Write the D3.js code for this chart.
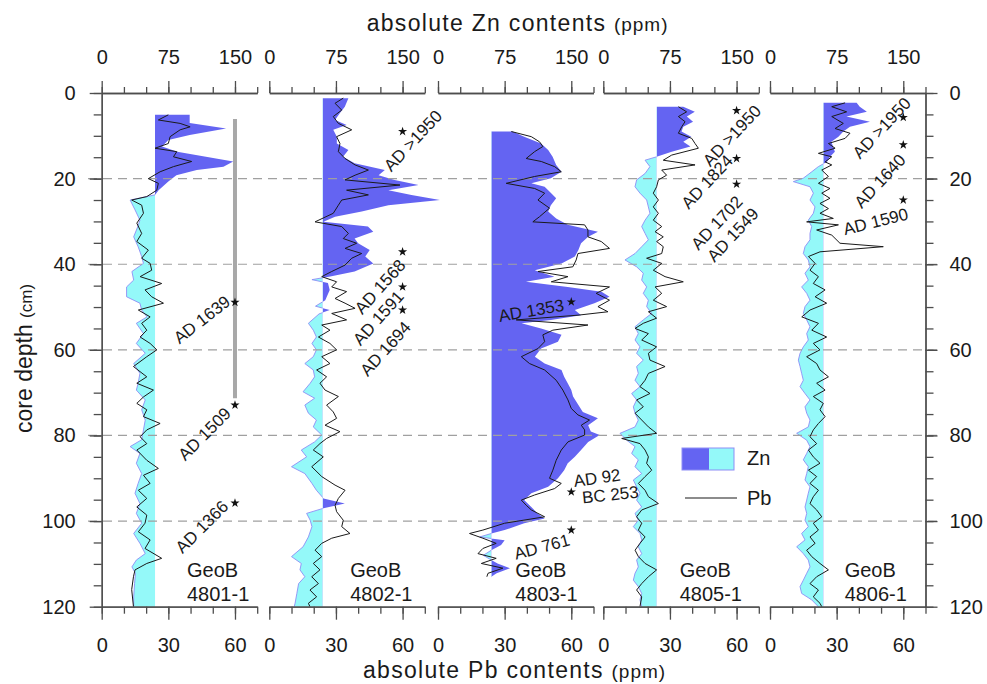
<!DOCTYPE html>
<html>
<head>
<meta charset="utf-8">
<script src="https://cdn.jsdelivr.net/npm/d3@7"></script>
<style>
  body { margin: 0; background: #fff; }
  svg text { font-family: Arial, "Liberation Sans", Helvetica, sans-serif; fill: #1a1a1a; }
</style>
</head>
<body>
<svg id="chart" width="987" height="684"></svg>
<script>
// cores, left to right
var cores = ['4801-1', '4802-1', '4803-1', '4805-1', '4806-1'];

// [depth cm, Zn ppm]
var zn4801 = [[5.1,99],[7,99],[8.3,140],[9.8,99],[11,75],[12.5,68],[13.7,85],[16,148],[17.2,137],[18,107],[19.2,84],[20.7,75],[22.7,64],[23.8,60],[25,32],[27.3,37.5],[29.7,43],[31,41],[33.6,36],[35.9,41],[38.2,45],[39.8,47],[41.7,34],[43.7,36],[45.3,28],[47.6,28],[49.1,43],[50.7,45],[52.3,51],[53.8,39],[56.2,47],[58.5,39],[60.8,49],[63.2,36],[65.5,43],[67.8,41],[69.4,39],[71.7,49],[74,45],[76.4,49],[78.7,47],[81,45],[82.6,32],[84.2,43],[86.5,39],[88.9,45],[91.2,41],[93.5,37.5],[95.9,43],[98.2,39],[100.5,45],[102.9,36],[105.2,43],[107.6,49],[109.1,39],[110.7,34],[112.2,38],[114.6,37],[117.7,36],[120,36]];
// [depth cm, Pb ppm]
var pb4801 = [[5.1,30],[6.3,25.5],[7.1,35.3],[7.9,39.8],[8.6,35.3],[10.2,30.8],[11.8,30],[12.9,24],[13.7,33.8],[14.9,32.3],[16,40.5],[17.2,32.3],[18.4,26.3],[20,21],[21.1,25.5],[22.7,24.8],[24.2,20.3],[25,13.5],[26.2,18],[28.1,18.8],[30.4,15.8],[32.8,18],[34.7,15.8],[36.7,21],[38.6,18],[39.8,21.8],[41.4,22.5],[42.9,17.3],[44.5,27],[46,19.5],[47.6,22.5],[49.1,27.8],[50.7,16.5],[52.3,21.8],[53.8,18],[55.4,20.3],[57,17.3],[58.5,21.8],[60,24.8],[61.6,20.3],[63.9,14.3],[66.3,20.3],[67.8,15.8],[69.4,23.3],[71,18.8],[72.5,15.8],[74,20.3],[75.6,18.8],[77.2,26.3],[78.7,20.3],[80.3,17.3],[81.9,20.3],[83.4,15.8],[85.8,20.3],[87.7,25.5],[89.3,18.8],[91.2,21.8],[92.8,16.5],[94.7,20.3],[96.7,15.8],[98.6,20.3],[100.5,19.5],[102.5,16.5],[104.4,21.8],[106.4,19.5],[108.7,27],[109.9,20.3],[111.4,15],[113,14.3],[116,13.5],[120,14.3]];

var zn4802 = [[1.2,89],[3.2,85],[4.7,79.5],[6.3,74],[7.5,87],[8.6,72],[10.2,76],[11.8,76],[13.3,89],[14.9,83],[16.4,96],[18,130],[19.2,123],[20.3,141],[21.5,168],[22.7,134],[23.8,160],[25,192],[26.2,134],[27.7,104],[28.9,74],[30.1,61],[31.2,111],[32.4,117],[34,96],[35.1,100],[36.7,113],[38.2,108],[39.8,117],[41.7,96],[42.8,70],[43.6,48],[44.4,66],[46,68],[48.4,63],[49.8,52],[50.7,68],[51.6,56],[53.8,44],[55.4,49.5],[57,53],[58.5,48],[60,53],[61.6,49.5],[63.2,40],[64.7,49.5],[66.3,51],[67.8,46],[69.8,38],[71.3,51],[72.9,40],[74.8,44],[76.4,53],[78,49.5],[79.9,59],[81.5,51],[83.4,36],[85,42],[87.3,25],[88.9,40],[91.2,48],[92.8,53],[94.7,61],[95.9,85],[97,61],[98.2,42],[99.8,46],[101.3,48],[103.7,44],[106,38],[108.3,25],[109.9,36],[111.4,34.5],[113,40],[114.6,33],[116.9,31],[119.2,29],[120,28]];
var pb4802 = [[1.2,33.3],[2.4,29.6],[4,32.6],[5.5,28.8],[7.1,31.1],[8.6,37.1],[10.2,30.3],[11.8,31.8],[13.7,31.1],[15.3,34.1],[16.8,38.6],[18,44.6],[19.2,38.6],[20.3,34.1],[21.5,58.8],[22.7,34.8],[23.8,44.6],[25,32.6],[26.2,31.1],[28.1,28.8],[30.1,20.6],[31.2,32.6],[32.8,35.6],[34,33.3],[35.1,39.3],[36.3,34.1],[37.5,41.6],[38.6,37.1],[40.2,34.1],[41.7,28.1],[42.9,23.6],[44.1,30.3],[45.3,28.1],[46.4,34.8],[48,29.6],[49.1,34.1],[50.3,38.6],[51.5,28.1],[53,34.8],[54.2,23.6],[55.4,27.3],[57,22.1],[58.5,27.3],[60,30.3],[61.6,23.6],[63.2,27.3],[64.7,21.3],[66.3,25.8],[67.8,22.8],[69.4,25.1],[70.9,31.1],[72.9,25.8],[74.5,28.8],[76,30.3],[77.6,25.1],[79.1,31.8],[80.7,25.8],[81.9,22.8],[83.4,19.8],[85,24.3],[87.3,19.1],[89.6,23.6],[91.6,29.6],[92.8,34.1],[94.7,31.1],[96.3,29.6],[97.8,30.3],[99.8,33.3],[101.3,32.6],[102.9,36.3],[104,28.1],[105.2,23.6],[106.8,20.6],[108.3,23.6],[109.9,19.8],[111.4,22.8],[113,19.1],[114.6,22.1],[116.1,18.3],[117.7,21.3],[119.2,17.6],[120,18.3]];

var zn4803 = [[9,84],[10.2,97],[11.8,116],[13.3,124],[14.9,129],[16.8,133],[18.4,139],[19.9,127],[21.1,105],[21.9,120],[23.1,126],[24.6,133],[26.2,127],[27.7,124],[29.3,133],[30.8,146],[32.4,180],[33.6,169],[35.1,161],[36.7,158],[38.2,154],[39.8,139],[41.4,109],[42.9,131],[44.1,99],[45.3,146],[46.4,184],[47.6,193],[49.1,176],[50.7,154],[51.9,161],[53,127],[53.8,94],[55,116],[56.5,139],[58.1,135],[59.7,116],[61.6,109],[63.2,120],[64.7,139],[66.3,142],[67.8,146],[69.4,150],[70.9,152],[72.9,158],[74.5,163],[76,180],[77.6,169],[79.1,172],[79.9,182],[81.5,169],[83.4,161],[85,154],[86.5,146],[88.1,142],[90,135],[92,124],[93.5,105],[95.1,97],[96.7,105],[98.2,112],[99.4,120],[100.5,97],[102.1,75],[102.9,60],[103.7,47],[104.5,75],[105.6,71],[106.8,60],[108,51],[109.1,60],[109.9,67],[111,81],[112.2,66],[113,60]];
var pb4803 = [[9,33],[10.2,42],[11.4,45.7],[12.5,47.2],[13.7,43.5],[15.3,39.7],[16,46.5],[17.2,52.5],[18.4,55.5],[19.5,43.5],[21.1,30.7],[22.3,43.5],[23.4,48],[25,45],[26.9,50.2],[28.9,45.7],[30.1,42.7],[30.8,66],[32,67.5],[33.6,67.5],[34.7,73.5],[36.3,77.2],[37.5,63],[39,62.2],[40.6,60.7],[41.7,45],[42.9,58.5],[44.1,51],[45.3,77.2],[46.8,71.2],[48.4,77.2],[49.9,72],[51.1,76.5],[51.9,63],[53,35.2],[54.2,67.5],[55.4,51.7],[56.5,47.2],[58.1,48],[59.7,45],[61.6,37.5],[63.2,41.2],[64.7,48],[67.1,53.2],[69.4,56.2],[71.7,58.5],[73.7,60],[75.2,63],[76.4,68.2],[77.6,64.5],[78.7,66],[79.9,66],[81.5,58.5],[83.4,55.5],[85.8,53.2],[88.1,51.7],[90,50.2],[91.2,55.5],[92.4,52.5],[93.9,43.5],[95.1,37.5],[96.3,39.7],[97.4,42],[99,48],[100.5,30],[102.1,20.2],[102.9,14.2],[104,20.2],[105.2,26.2],[106.4,20.2],[107.6,18],[108.7,26.2],[109.9,19.5],[111,29.2],[112.2,22.5],[113,22]];

var zn4805 = [[3.2,90],[4.4,103],[5.5,94],[6.7,101],[7.9,90],[9,88],[10.2,99],[11.4,90],[12.5,98],[13.7,77],[14.9,60],[15.7,47],[17.2,52.5],[18.8,47],[20.3,37.5],[21.9,35.7],[23.4,41.3],[25,48.8],[26.6,50.7],[28.1,52.5],[29.7,47],[31.2,43.2],[32.8,47],[34.3,50.7],[35.9,43.2],[37.5,35.7],[39,24.4],[40.6,37.5],[42.1,45],[43.7,43.2],[45.3,48.8],[46.8,45],[48.4,50.7],[49.9,48.8],[51.5,54.4],[53,45],[54.6,35.7],[56.2,39.4],[57.7,35.7],[59.3,41.3],[60.8,37.5],[62.4,45],[63.9,37.5],[65.5,39.4],[67.1,35.7],[68.6,41.3],[70.2,31.9],[71.7,37.5],[73.3,33.8],[74.8,35.7],[76.4,39.4],[78,35.7],[79.5,18.8],[81.1,26.3],[82.6,35.7],[84.2,31.9],[85.7,39.4],[87.3,35.7],[88.9,43.2],[90.4,33.8],[92,37.5],[93.5,41.3],[95.1,37.5],[96.7,43.2],[98.2,35.7],[99.8,39.4],[101.3,33.8],[102.9,41.3],[104.4,43.2],[106,39.4],[107.6,43.2],[109.1,37.5],[110.7,39.4],[112.2,35.7],[113.8,33.8],[115.3,39.4],[116.9,43.2],[118.4,41.3],[120,43.2]];
var pb4805 = [[3.2,33.8],[4.4,37.5],[5.5,33.8],[6.7,36.8],[7.9,35.3],[9.4,33.8],[10.6,39.8],[11.8,41.3],[12.9,42.8],[14.5,30.8],[15.7,27],[16.8,41.3],[18,26.3],[19.2,28.5],[20.3,24.8],[21.9,24],[23.4,22.5],[25,24.8],[26.6,22.5],[28.1,24.8],[29.7,22.5],[31.2,26.3],[32.4,23.3],[33.6,27],[34.7,24],[35.9,27],[37.5,26.3],[38.6,19.5],[39.8,26.3],[41.4,22.5],[42.9,27.8],[44.1,36],[45.3,23.3],[46.8,26.3],[48.4,22.5],[49.9,28.5],[51.1,20.3],[52.6,24],[53.8,18],[55,14.3],[56.2,20.3],[57.7,17.3],[59.3,24],[60.8,20.3],[62.4,21],[63.9,27.8],[65.5,20.3],[67.1,18.8],[68.6,16.5],[70.2,21],[71.7,15],[73.3,18],[74.8,14.3],[76.4,17.3],[78,20.3],[79.5,24],[80.7,8.3],[81.9,16.5],[83.4,18.8],[85,20.3],[86.5,19.5],[88.1,21.8],[89.6,18.8],[91.2,15.8],[92.8,18.8],[94.3,20.3],[95.9,24.8],[97.4,17.3],[99,15],[100.5,17.3],[102.1,15.8],[103.7,18.8],[105.2,16.5],[106.8,14.3],[108.3,15.8],[109.9,18.8],[111.4,24],[113,20.3],[114.6,17.3],[116.1,15],[117.7,17.3],[120,16.5]];

var zn4806 = [[2.3,97.5],[3.2,101],[4.4,109],[5.5,86],[6.7,112.5],[7.9,90],[9,82.5],[10.2,77],[11.4,69],[12.5,71],[13.7,73],[14.9,67.5],[16.1,64],[17.2,54.4],[18.4,47],[19.9,37.5],[20.7,26.3],[21.9,45],[23.4,48.8],[25,45],[26.6,50.6],[28.1,48.8],[29.7,43.1],[31.2,46.9],[32.8,45],[34.3,45],[35.9,39.4],[37.5,37.5],[39,43.1],[40.6,45],[42.1,39.4],[43.7,43.1],[45.3,35.6],[46.8,41.3],[48.4,45],[49.9,39.4],[51.5,37.5],[53,41.3],[54.6,45],[56.2,41.3],[57.7,43.1],[59.3,37.5],[60.8,33.8],[62.4,31.9],[63.9,33.8],[65.5,35.6],[67.1,37.5],[68.6,33.8],[70.2,39.4],[71.7,45],[73.3,39.4],[74.8,41.3],[76.4,45],[78,43.1],[79.5,30],[81.1,41.3],[82.6,45],[84.2,41.3],[85.7,37.5],[87.3,43.1],[88.9,41.3],[90.4,39.4],[92,45],[93.5,43.1],[95.1,41.3],[96.7,39.4],[98.2,41.3],[99.8,39.4],[101.3,43.1],[102.9,35.6],[104.4,39.4],[106,30],[107.6,37.5],[109.1,43.1],[110.7,45],[112.2,41.3],[113.8,37.5],[115.3,33.8],[116.9,35.6],[118.4,46.9],[120,54.4]];
var pb4806 = [[2.3,33.8],[3.2,27.8],[4.4,34.5],[5.5,27.8],[7.1,33],[8.3,29.3],[9.4,36],[10.6,33.8],[11.8,26.3],[12.9,29.3],[14.1,21.8],[14.9,27.8],[16.1,24.8],[16.8,27.8],[18,23.3],[19.5,26.3],[21.1,21.8],[22.3,27],[23.4,23.3],[24.6,27],[25.8,22.5],[27,26.3],[28.1,22.5],[29.3,28.5],[30.1,16.5],[30.8,30.8],[32,21],[33.2,27.8],[35.1,31.5],[35.9,51],[37.1,22.5],[38.2,17.3],[39.8,20.3],[41.4,18],[42.9,21.8],[44.5,19.5],[46,24.8],[47.6,20.3],[49.1,25.5],[50.7,18],[52.3,14.3],[53.8,21.8],[55.4,18.8],[57,25.5],[58.5,19.5],[60,22.5],[61.6,16.5],[63.2,21],[64.7,22.5],[66.3,26.3],[67.8,21],[69.4,24.8],[70.9,19.5],[72.5,24],[74,22.5],[75.6,24.8],[77.2,21.8],[78.7,19.5],[80.3,18],[81.9,21],[83.4,17.3],[85,19.5],[86.5,22.5],[88.1,17.3],[89.6,21],[91.2,18],[92.8,21.8],[94.3,19.5],[95.9,18],[97.4,21],[99,23.3],[100.5,19.5],[102.1,21.8],[103.7,18],[105.2,20.3],[106.8,16.5],[108.3,18.8],[109.9,22.5],[111.4,26.3],[113,21],[114.6,18],[116.1,21.8],[117.7,19.5],[119.2,22.5],[120,23.3]];

var znSeries = [zn4801, zn4802, zn4803, zn4805, zn4806];
var pbSeries = [pb4801, pb4802, pb4803, pb4805, pb4806];

// dated levels (depth cm), star marks at Zn = 150
var dated = [[48.9, 72.9, 95.8], [9, 37.1, 45.3, 50.7], [48.8, 93.2, 102.1], [4.1, 15.3, 21.3], [5.7, 12.1, 25]];
// age labels: [core index, text, Zn position, depth, angle]
var ageLabels = [
  [0, 'AD 1639', 113, 53, -38], [0, 'AD 1509', 116, 79.7, -45], [0, 'AD 1366', 113, 101.4, -45],
  [1, 'AD >1950', 162, 11.2, -47], [1, 'AD 1568', 125, 45.3, -48], [1, 'AD 1591', 123, 52.6, -48], [1, 'AD 1694', 131, 59.8, -48],
  [2, 'AD 1353', 105, 50.9, -10], [2, 'AD 92', 179, 90, -8], [2, 'BC 253', 194, 93.9, -6], [2, 'AD 761', 117, 106.1, -15],
  [3, 'AD >1950', 145, 10, -47], [3, 'AD 1824', 117, 20.8, -47], [3, 'AD 1702', 128, 30.4, -47], [3, 'AD 1549', 146, 33.2, -47],
  [4, 'AD >1950', 126, 8.2, -47], [4, 'AD 1640', 124, 20.6, -47], [4, 'AD 1590', 119, 30.1, -14]
];
var rangeBar = [6.1, 71.3];          // grey bar in core 4801-1
var geoLabelX = [96, 91, 87, 86, 84]; // Zn units

var depthTicks = [0, 20, 40, 60, 80, 100, 120];
var depthMinor = d3.range(0, 121, 5);
var znTicks = [0, 75, 150];
var znMinor = d3.range(0, 176, 25);
var pbTicks = [0, 30, 60];
var pbMinor = d3.range(0, 71, 10);
var znBase = 60;

var blue = '#6464f2', cyan = '#94f9f9', axisCol = '#4d4d4d';

var svg = d3.select('#chart');
var panelX = [101.7, 269.3, 438, 603.3, 770];
var panelW = 155.5;
var yTop = 93, yBottom = 606.7;

var y = d3.scaleLinear().domain([0, 120]).range([yTop, yBottom]);

var styleAxis = function(g) {
    g.selectAll('path.domain').attr('stroke', axisCol).attr('stroke-width', 1.3);
    g.selectAll('.tick line').attr('stroke', axisCol).attr('stroke-width', 1.3);
    g.selectAll('.tick text').style('font-size', '20px').attr('fill', '#1a1a1a');
};

var defs = svg.append('defs');
var fills = svg.append('g');
var grid = svg.append('g');
var lines = svg.append('g');
var notes = svg.append('g');
var axes = svg.append('g');

panelX.forEach(function(x0, i) {
    var xZn = d3.scaleLinear().domain([0, 175]).range([x0, x0 + panelW]);
    var xPb = d3.scaleLinear().domain([0, 70]).range([x0, x0 + panelW]);
    var xb = xZn(znBase);

    // clip right / left of the Zn baseline
    defs.append('clipPath').attr('id', 'hi' + i)
        .append('rect').attr('x', xb).attr('y', 0).attr('width', 200).attr('height', 684);
    defs.append('clipPath').attr('id', 'lo' + i)
        .append('rect').attr('x', xb - 150).attr('y', 0).attr('width', 150).attr('height', 684);

    var area = d3.area()
        .y(function(d) { return y(d[0]); })
        .x0(xb)
        .x1(function(d) { return xZn(d[1]); });

    fills.append('path').datum(znSeries[i])
        .attr('d', area).attr('fill', blue).attr('clip-path', 'url(#hi' + i + ')');
    fills.append('path').datum(znSeries[i])
        .attr('d', area).attr('fill', cyan).attr('clip-path', 'url(#lo' + i + ')');
    fills.append('path').datum(znSeries[i])
        .attr('d', d3.line().y(function(d) { return y(d[0]); }).x(function(d) { return xZn(d[1]); }))
        .attr('fill', 'none').attr('stroke', '#8d8df5').attr('stroke-width', 0.9)
        .attr('clip-path', 'url(#lo' + i + ')');

    lines.append('path').datum(pbSeries[i])
        .attr('d', d3.line().y(function(d) { return y(d[0]); }).x(function(d) { return xPb(d[1]); }))
        .attr('fill', 'none').attr('stroke', '#1a1a1a').attr('stroke-width', 1)
        .attr('stroke-linejoin', 'round');

    if (i === 0) {
        notes.append('line')
            .attr('x1', xZn(150)).attr('x2', xZn(150))
            .attr('y1', y(rangeBar[0])).attr('y2', y(rangeBar[1]))
            .attr('stroke', '#a8a8a8').attr('stroke-width', 4);
    }

    notes.selectAll('path.star' + i).data(dated[i]).enter().append('path')
        .attr('class', 'star' + i)
        .attr('d', d3.symbol().type(d3.symbolStar).size(26))
        .attr('transform', function(d) { return 'translate(' + xZn(150) + ',' + y(d) + ')'; })
        .attr('fill', '#111');

    notes.selectAll('text.age' + i)
        .data(ageLabels.filter(function(a) { return a[0] === i; }))
        .enter().append('text')
        .attr('class', 'age' + i)
        .attr('text-anchor', 'middle')
        .attr('dominant-baseline', 'central')
        .attr('transform', function(a) {
            return 'translate(' + xZn(a[2]) + ',' + y(a[3]) + ') rotate(' + a[4] + ')';
        })
        .style('font-size', '17px')
        .text(function(a) { return a[1]; });

    var gl = notes.append('text')
        .attr('x', xZn(geoLabelX[i])).attr('y', 577)
        .style('font-size', '20px');
    gl.append('tspan').attr('x', xZn(geoLabelX[i])).text('GeoB');
    gl.append('tspan').attr('x', xZn(geoLabelX[i])).attr('dy', 24).text(cores[i]);

    // top Zn axis
    axes.append('g').attr('transform', 'translate(0,' + yTop + ')')
        .call(d3.axisTop(xZn).tickValues(znMinor).tickSize(6).tickSizeOuter(0).tickFormat(''))
        .call(styleAxis);
    axes.append('g').attr('transform', 'translate(0,' + yTop + ')')
        .call(d3.axisTop(xZn).tickValues(znTicks).tickSize(12).tickSizeOuter(0).tickPadding(17))
        .call(styleAxis);

    // bottom Pb axis
    axes.append('g').attr('transform', 'translate(0,' + yBottom + ')')
        .call(d3.axisBottom(xPb).tickValues(pbMinor).tickSize(7).tickSizeOuter(0).tickFormat(''))
        .call(styleAxis);
    axes.append('g').attr('transform', 'translate(0,' + yBottom + ')')
        .call(d3.axisBottom(xPb).tickValues(pbTicks).tickSize(13).tickSizeOuter(0).tickPadding(18))
        .call(styleAxis);
});

// horizontal dashed depth lines
grid.selectAll('line').data(depthTicks.slice(1, -1)).enter().append('line')
    .attr('x1', 88).attr('x2', 937)
    .attr('y1', function(d) { return y(d); }).attr('y2', function(d) { return y(d); })
    .attr('stroke', '#a0a0a0').attr('stroke-width', 1.2).attr('stroke-dasharray', '9,6');

// depth axes
var xl = panelX[0], xr = panelX[4] + panelW;
axes.append('g').attr('transform', 'translate(' + xl + ',0)')
    .call(d3.axisLeft(y).tickValues(depthMinor).tickSize(8).tickSizeOuter(0).tickFormat(''))
    .call(styleAxis);
axes.append('g').attr('transform', 'translate(' + xl + ',0)')
    .call(d3.axisLeft(y).tickValues(depthTicks).tickSize(12).tickSizeOuter(0).tickPadding(14))
    .call(styleAxis);
axes.append('g').attr('transform', 'translate(' + xr + ',0)')
    .call(d3.axisRight(y).tickValues(depthMinor).tickSize(8).tickSizeOuter(0).tickFormat(''))
    .call(styleAxis);
axes.append('g').attr('transform', 'translate(' + xr + ',0)')
    .call(d3.axisRight(y).tickValues(depthTicks).tickSize(12).tickSizeOuter(0).tickPadding(12))
    .call(styleAxis);

// titles
var t1 = svg.append('text').attr('x', 366.7).attr('y', 31)
    .style('font-size', '23px').style('letter-spacing', '1.3px');
t1.append('tspan').text('absolute Zn contents ');
t1.append('tspan').style('font-size', '19px').style('letter-spacing', '1px').text('(ppm)');

var t2 = svg.append('text').attr('x', 363).attr('y', 678)
    .style('font-size', '23px').style('letter-spacing', '1.3px');
t2.append('tspan').text('absolute Pb contents ');
t2.append('tspan').style('font-size', '19px').style('letter-spacing', '1px').text('(ppm)');

var t3 = svg.append('text').attr('transform', 'translate(31.5,433) rotate(-90)')
    .style('font-size', '23px');
t3.append('tspan').text('core depth ');
t3.append('tspan').style('font-size', '17px').text('(cm)');

// legend
var lg = svg.append('g');
lg.append('rect').attr('x', 682).attr('y', 448).attr('width', 27).attr('height', 22).attr('fill', blue);
lg.append('rect').attr('x', 709).attr('y', 448).attr('width', 25).attr('height', 22).attr('fill', cyan);
lg.append('rect').attr('x', 682).attr('y', 448).attr('width', 52).attr('height', 22)
    .attr('fill', 'none').attr('stroke', '#8d8df5').attr('stroke-width', 1);
lg.append('text').attr('x', 747).attr('y', 465).style('font-size', '20px').text('Zn');
lg.append('line').attr('x1', 685).attr('x2', 737).attr('y1', 498).attr('y2', 498)
    .attr('stroke', '#1a1a1a').attr('stroke-width', 1.2);
lg.append('text').attr('x', 747).attr('y', 505).style('font-size', '20px').text('Pb');
</script>
</body>
</html>
